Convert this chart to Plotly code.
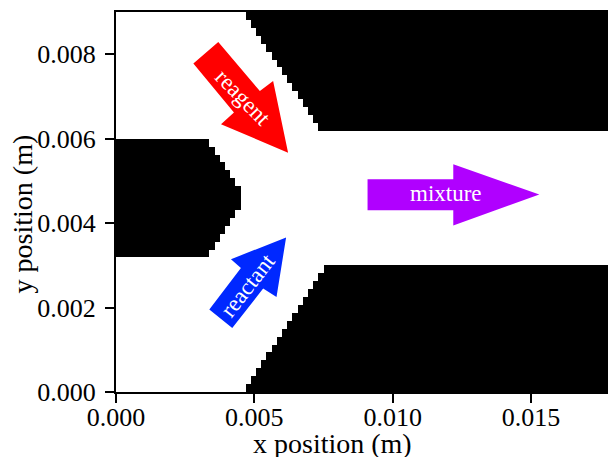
import plotly.graph_objects as go

FONT = "Liberation Serif"
x_ticks = [0.0, 0.005, 0.01, 0.015]
y_ticks = [0.0, 0.002, 0.004, 0.006, 0.008]
x_label = "x position (m)"
y_label = "y position (m)"
cell = 0.0001875
n_cols = 96
n_rows = 48

# first solid column of the lower wall, rows 0..15
lower_wall_start = [25, 26, 27, 28, 29, 30, 31, 32, 33, 34, 35, 36, 37, 38, 39, 40]
# first solid column of the upper wall, rows 33..47
upper_wall_rows = [33, 34, 35, 36, 37, 38, 39, 40, 41, 42, 43, 44, 45, 46, 47]
upper_wall_start = [39, 38, 37, 36, 35, 34, 33, 32, 31, 30, 29, 28, 27, 26, 25]
# end column of the splitter on the left, rows 17..31
splitter_rows = [17, 18, 19, 20, 21, 22, 23, 24, 25, 26, 27, 28, 29, 30, 31]
splitter_end = [18, 19, 20, 21, 22, 23, 24, 24, 24, 23, 22, 21, 20, 19, 18]

reagent_x = [0.003697, 0.005200, 0.005679, 0.006220, 0.003795, 0.004263, 0.002796]
reagent_y = [0.008287, 0.007126, 0.007363, 0.005664, 0.006344, 0.006621, 0.007782]
reactant_x = [0.003373, 0.004515, 0.004155, 0.006148, 0.005802, 0.005319, 0.004202]
reactant_y = [0.001953, 0.002938, 0.003145, 0.003659, 0.002251, 0.002450, 0.001517]
mixture_x = [0.009092, 0.012191, 0.012191, 0.015301, 0.012191, 0.012191, 0.009092]
mixture_y = [0.005040, 0.005040, 0.005396, 0.004678, 0.003943, 0.004306, 0.004306]

z = [[0] * n_cols for _ in range(n_rows)]
for r, c in enumerate(lower_wall_start):
    for k in range(c, n_cols):
        z[r][k] = 1
for r, c in zip(upper_wall_rows, upper_wall_start):
    for k in range(c, n_cols):
        z[r][k] = 1
for r, c in zip(splitter_rows, splitter_end):
    for k in range(0, c):
        z[r][k] = 1

fig = go.Figure()
fig.add_trace(go.Heatmap(
    z=z, x0=cell / 2, dx=cell, y0=cell / 2, dy=cell,
    colorscale=[[0, "#ffffff"], [1, "#000000"]], zmin=0, zmax=1,
    showscale=False, hoverinfo="skip",
))
for xs, ys, col in [
    (reagent_x, reagent_y, "#ff0000"),
    (reactant_x, reactant_y, "#0028ff"),
    (mixture_x, mixture_y, "#b000ff"),
]:
    fig.add_trace(go.Scatter(
        x=xs, y=ys, fill="toself", fillcolor=col, mode="lines",
        line=dict(width=0, color=col), showlegend=False, hoverinfo="skip",
    ))

for text, x, y, ang in [
    ("reagent", 0.004587, 0.00698, 46),
    ("reactant", 0.004757, 0.00253, -52),
    ("mixture", 0.01194, 0.0047, 0),
]:
    fig.add_annotation(
        text=text, x=x, y=y, xref="x", yref="y", showarrow=False, textangle=ang,
        font=dict(family=FONT, size=23, color="white"),
    )

W, H, L, T, B = 616, 457, 116, 12, 65
TITLE_FONT = dict(family=FONT, size=28, color="black")
fig.add_annotation(text=x_label, showarrow=False, xref="paper", yref="paper",
                   xanchor="center", yanchor="middle",
                   x=(333.5 - L) / (W - L), y=(H - B - 443.5) / (H - B - T), font=TITLE_FONT)
fig.add_annotation(text=y_label, showarrow=False, xref="paper", yref="paper", textangle=-90,
                   xanchor="center", yanchor="middle",
                   x=(22 - L) / (W - L), y=(H - B - 214) / (H - B - T), font=TITLE_FONT)

axis = dict(
    showgrid=False, zeroline=False, showline=True, linecolor="black", linewidth=2,
    ticks="outside", ticklen=9, tickwidth=2, tickcolor="black", mirror=True,
    tickformat=".3f", tickfont=dict(family=FONT, size=26, color="black"),
)
fig.update_layout(
    width=W, height=H, margin=dict(l=L, r=0, t=T, b=B),
    paper_bgcolor="white", plot_bgcolor="white", showlegend=False,
    xaxis=dict(axis, range=[0, 0.018], tickvals=x_ticks, ticklabelstandoff=-8),
    yaxis=dict(axis, range=[0, 0.009], tickvals=y_ticks, ticklabelstandoff=4),
)
fig.write_html("out.html", config=dict(displayModeBar=False),
               post_script="document.body.style.margin='0';document.body.style.overflow='hidden';")
